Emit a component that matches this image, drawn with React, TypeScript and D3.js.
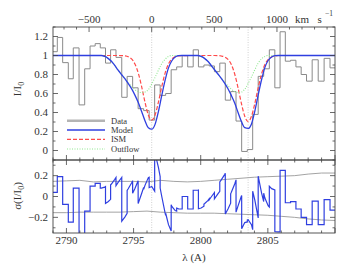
import React from 'react';
import * as d3 from 'd3';

// ---------------- data ----------------
const LAM0_A = 2796.35;
const LAM0_B = 2803.53;
const C_KMS = 299792.458;

// observed spectrum (histogram): bin edges (Å) and normalised flux per bin
const binEdges = [2789.00, 2789.32, 2789.72, 2790.14, 2790.51, 2790.94, 2791.36, 2791.76, 2792.14, 2792.52,
  2792.91, 2793.29, 2793.69, 2794.12, 2794.52, 2794.93, 2795.34, 2795.75, 2796.16, 2796.57,
  2796.98, 2797.39, 2797.80, 2798.21, 2798.62, 2799.03, 2799.44, 2799.83, 2800.24, 2800.63,
  2801.02, 2801.42, 2801.83, 2802.23, 2802.63, 2803.05, 2803.47, 2803.87, 2804.28, 2804.69,
  2805.11, 2805.52, 2805.91, 2806.30, 2806.69, 2807.09, 2807.48, 2807.88, 2808.30, 2808.75,
  2809.19, 2809.63, 2810.00];
const dataFlux = [1.04, 1.19, 0.925, 0.755, 1.08, 0.48, 0.86, 1.10, 1.125, 1.08,
  0.92, 1.06, 0.98, 0.56, 0.78, 0.66, 0.44, 0.42, 0.32, 0.69,
  0.58, 0.60, 0.85, 0.88, 1.00, 0.88, 1.06, 0.88, 0.90, 0.89,
  0.83, 0.92, 0.53, 0.62, 0.31, -0.01, 0.01, 0.38, 0.78, 0.86,
  1.06, 0.66, 1.25, 0.94, 0.95, 0.88, 0.80, 0.73, 0.955, 0.73,
  0.97, 0.87];

// model curves sampled along wavelength
const modelLam = [2789.00,
  2792.35, 2792.60, 2792.85, 2793.10, 2793.35, 2793.60, 2793.85, 2794.10, 2794.35, 2794.60,
  2794.85, 2795.10, 2795.35, 2795.60, 2795.85, 2796.10, 2796.35, 2796.60, 2796.85, 2797.10,
  2797.35, 2797.60, 2797.85, 2798.10, 2798.35, 2798.60,
  2799.53, 2799.78, 2800.03, 2800.28, 2800.53, 2800.78, 2801.03, 2801.28, 2801.53, 2801.78,
  2802.03, 2802.28, 2802.53, 2802.78, 2803.03, 2803.28, 2803.53, 2803.78, 2804.03, 2804.28,
  2804.53, 2804.78, 2805.03, 2805.28, 2805.53, 2805.78,
  2810.00];
const modelFlux = [1.0,
  1.0, 1.0, 0.99, 0.97, 0.94, 0.895, 0.845, 0.80, 0.757, 0.706,
  0.651, 0.583, 0.505, 0.411, 0.313, 0.239, 0.224, 0.275, 0.41, 0.58,
  0.74, 0.87, 0.945, 0.985, 0.998, 1.0,
  1.0, 1.0, 0.99, 0.97, 0.94, 0.895, 0.85, 0.805, 0.76, 0.71,
  0.65, 0.58, 0.50, 0.40, 0.305, 0.24, 0.232, 0.28, 0.415, 0.585,
  0.745, 0.875, 0.95, 0.985, 0.998, 1.0,
  1.0];
const ismFlux = [1.0,
  1.0, 1.0, 1.0, 1.0, 1.0, 1.0, 1.0, 0.999, 0.996, 0.987,
  0.964, 0.911, 0.815, 0.673, 0.509, 0.373, 0.32, 0.373, 0.509, 0.673,
  0.815, 0.911, 0.964, 0.987, 0.996, 0.999,
  1.0, 1.0, 1.0, 1.0, 1.0, 1.0, 1.0, 0.999, 0.995, 0.985,
  0.96, 0.905, 0.805, 0.66, 0.495, 0.36, 0.305, 0.36, 0.495, 0.66,
  0.805, 0.905, 0.96, 0.985, 0.995, 1.0,
  1.0];
const outflowFlux = [1.0,
  1.0, 1.0, 0.99, 0.97, 0.94, 0.895, 0.845, 0.80, 0.76, 0.715,
  0.675, 0.64, 0.62, 0.61, 0.615, 0.64, 0.70, 0.77, 0.845, 0.915,
  0.96, 0.99, 1.0, 1.0, 1.0, 1.0,
  1.0, 1.0, 0.99, 0.97, 0.94, 0.895, 0.85, 0.805, 0.765, 0.72,
  0.68, 0.645, 0.62, 0.61, 0.615, 0.645, 0.705, 0.775, 0.85, 0.92,
  0.965, 0.99, 1.0, 1.0, 1.0, 1.0,
  1.0];

// error envelope (bottom panel)
const sigLam = [2789, 2790, 2791, 2792, 2793, 2794, 2795, 2796, 2797, 2798, 2799, 2800, 2801, 2802, 2803, 2804, 2805, 2806, 2807, 2808, 2809, 2810];
const sigUp = [0.145, 0.15, 0.155, 0.14, 0.145, 0.145, 0.145, 0.14, 0.155, 0.145, 0.14, 0.145, 0.155, 0.165, 0.175, 0.185, 0.19, 0.195, 0.2, 0.215, 0.225, 0.225];
const sigLo = [-0.155, -0.155, -0.15, -0.15, -0.15, -0.15, -0.145, -0.14, -0.15, -0.155, -0.16, -0.16, -0.16, -0.165, -0.17, -0.175, -0.18, -0.19, -0.2, -0.215, -0.225, -0.23];

const velLabels = [-500, 0, 500];
const fluxLabels = [0, 0.2, 0.4, 0.6, 0.8, 1, 1.2];
const resLabels = [-0.2, 0, 0.2];
const lamLabels = [2790, 2795, 2800, 2805];
const legendNames = ['Data', 'Model', 'ISM', 'Outflow'];

// ---------------- layout ----------------
const W = 352, H = 266;
const L = 53, R = 335, T = 27, MID = 160, B = 233;
const FONT = '"Liberation Serif", "DejaVu Serif", serif';
const AX = '#444';
const TXT = '#333';
const C_DATA = '#8a8a8a';
const C_MODEL = '#2f3fe0';
const C_ISM = '#ff4a4a';
const C_OUT = '#8fe88f';

const fmt = (v: number) => (v < 0 ? '\u2212' + String(Math.abs(v)) : String(v));

export default function App() {
  const x = d3.scaleLinear().domain([2789, 2810]).range([L, R]);
  const yT = d3.scaleLinear().domain([-0.1, 1.3]).range([MID, T]);
  const yB = d3.scaleLinear().domain([-0.35, 0.35]).range([B, MID]);
  const velX = (v: number) => x(LAM0_A * (1 + v / C_KMS));

  // histogram
  const histPts: [number, number][] = dataFlux.map((v, i) => [binEdges[i], v]);
  histPts.push([binEdges[binEdges.length - 1], dataFlux[dataFlux.length - 1]]);
  const histPath = d3.line<[number, number]>().x(d => x(d[0])).y(d => yT(d[1])).curve(d3.curveStepAfter)(histPts) || '';

  const curve = (arr: number[]) =>
    d3.line<number>().x((_, i) => x(modelLam[i])).y(d => yT(d)).curve(d3.curveMonotoneX)(arr) || '';

  // residual = data - model
  const mAt = d3.scaleLinear().domain(modelLam).range(modelFlux).clamp(true);
  const resPts: [number, number][] = [];
  dataFlux.forEach((v, i) => {
    const a = binEdges[i], b = binEdges[i + 1];
    resPts.push([a, v - mAt(a)]);
    modelLam.forEach(l => { if (l > a && l < b) resPts.push([l, v - mAt(l)]); });
    resPts.push([b, v - mAt(b)]);
  });
  const resPath = d3.line<[number, number]>().x(d => x(d[0])).y(d => yB(d[1]))(resPts) || '';
  const sigLine = (arr: number[]) =>
    d3.line<number>().x((_, i) => x(sigLam[i])).y(d => yB(d)).curve(d3.curveLinear)(arr) || '';

  // ticks
  const ticks: JSX.Element[] = [];
  let k = 0;
  const tk = (x1: number, y1: number, x2: number, y2: number) =>
    ticks.push(<line key={'t' + k++} x1={x1} y1={y1} x2={x2} y2={y2} stroke={AX} strokeWidth={0.8} />);

  d3.range(2789, 2811, 1).forEach(l => {
    const px = x(l);
    const len = l % 5 === 0 ? 5 : 2.5;
    tk(px, B, px, B - len);
    tk(px, MID, px, MID + len);
    tk(px, MID, px, MID - len);
  });
  d3.range(-800, 1500, 100).forEach(v => {
    const px = velX(v);
    if (px < L || px > R) return;
    const len = v % 500 === 0 ? 5 : 2.5;
    tk(px, T, px, T + len);
  });
  d3.range(-1, 14, 1).forEach(i => {
    const v = i / 10;
    const py = yT(v);
    const len = i % 2 === 0 ? 5 : 2.5;
    tk(L, py, L + len, py);
    tk(R, py, R - len, py);
  });
  d3.range(-3, 4, 1).forEach(i => {
    const py = yB(i / 10);
    const len = i % 2 === 0 ? 5 : 2.5;
    tk(L, py, L + len, py);
    tk(R, py, R - len, py);
  });

  const legendY = [120.7, 130, 139.3, 149];
  const legendStyle = [
    { stroke: '#b4b4b4', w: 2.4, dash: undefined },
    { stroke: C_MODEL, w: 1.3, dash: undefined },
    { stroke: C_ISM, w: 1.3, dash: '4,2' },
    { stroke: C_OUT, w: 1.2, dash: '1,1.5' },
  ];

  return (
    <svg width={W} height={H} style={{ position: 'absolute', left: 0, top: 0, background: '#fff' }}
      fontFamily={FONT}>
      <defs>
        <clipPath id="clipT"><rect x={L} y={T} width={R - L} height={MID - T} /></clipPath>
        <clipPath id="clipB"><rect x={L} y={MID} width={R - L} height={B - MID} /></clipPath>
      </defs>
      <rect x={0} y={0} width={W} height={H} fill="#fff" />

      {/* rest wavelength markers */}
      {[LAM0_A, LAM0_B].map((l, i) => (
        <line key={'v' + i} x1={x(l)} x2={x(l)} y1={T} y2={B} stroke="#bbb" strokeWidth={0.7} strokeDasharray="1,1.5" />
      ))}

      {/* top panel */}
      <g clipPath="url(#clipT)">
        <path d={histPath} fill="none" stroke={C_DATA} strokeWidth={1} />
        <path d={curve(ismFlux)} fill="none" stroke={C_ISM} strokeWidth={1.2} strokeDasharray="4,2" />
        <path d={curve(outflowFlux)} fill="none" stroke={C_OUT} strokeWidth={1.1} strokeDasharray="1,1.5" />
        <path d={curve(modelFlux)} fill="none" stroke={C_MODEL} strokeWidth={1.3} />
      </g>

      {/* legend */}
      {legendNames.map((n, i) => (
        <g key={'lg' + i}>
          <line x1={67} x2={105} y1={legendY[i]} y2={legendY[i]} stroke={legendStyle[i].stroke}
            strokeWidth={legendStyle[i].w} strokeDasharray={legendStyle[i].dash} />
          <text x={111} y={legendY[i] + 3} fontSize={8.5} fill={TXT}>{n}</text>
        </g>
      ))}

      {/* bottom panel */}
      <g clipPath="url(#clipB)">
        <path d={sigLine(sigUp)} fill="none" stroke="#999" strokeWidth={0.9} />
        <path d={sigLine(sigLo)} fill="none" stroke="#999" strokeWidth={0.9} />
        <path d={resPath} fill="none" stroke={C_MODEL} strokeWidth={1.2} />
      </g>

      {/* frames */}
      <rect x={L} y={T} width={R - L} height={MID - T} fill="none" stroke={AX} strokeWidth={0.9} />
      <rect x={L} y={MID} width={R - L} height={B - MID} fill="none" stroke={AX} strokeWidth={0.9} />
      {ticks}

      {/* top velocity labels */}
      {velLabels.map(v => (
        <text key={'vl' + v} x={velX(v)} y={23} fontSize={11} textAnchor="middle" fill={TXT}>{fmt(v)}</text>
      ))}
      <text x={velX(1000)} y={23} fontSize={11} textAnchor="middle" fill={TXT}>1000</text>
      <text x={295} y={23} fontSize={11} fill={TXT}>km</text>
      <text x={317.5} y={23} fontSize={11} fill={TXT}>s</text>
      <text x={325} y={16} fontSize={7.5} fill={TXT}>{'\u22121'}</text>

      {/* left labels */}
      {fluxLabels.map(v => (
        <text key={'fl' + v} x={48} y={yT(v) + 3.6} fontSize={11} textAnchor="end" fill={TXT}>{fmt(v)}</text>
      ))}
      {resLabels.map(v => (
        <text key={'rl' + v} x={48} y={yB(v) + 3.6} fontSize={11} textAnchor="end" fill={TXT}>{fmt(v)}</text>
      ))}
      {lamLabels.map(v => (
        <text key={'ll' + v} x={x(v)} y={244} fontSize={11} textAnchor="middle" fill={TXT}>{v}</text>
      ))}

      {/* axis titles */}
      <text x={194} y={261} fontSize={11} textAnchor="middle" fill={TXT}>λ (A)</text>
      <text transform="translate(21,89) rotate(-90)" fontSize={11} textAnchor="middle" fill={TXT}>
        I/I<tspan fontSize={8} dy={2.5}>0</tspan>
      </text>
      <text transform="translate(21,196) rotate(-90)" fontSize={11} textAnchor="middle" fill={TXT}>
        σ(I/I<tspan fontSize={8} dy={2.5}>0</tspan><tspan dy={-2.5}>)</tspan>
      </text>
    </svg>
  );
}
